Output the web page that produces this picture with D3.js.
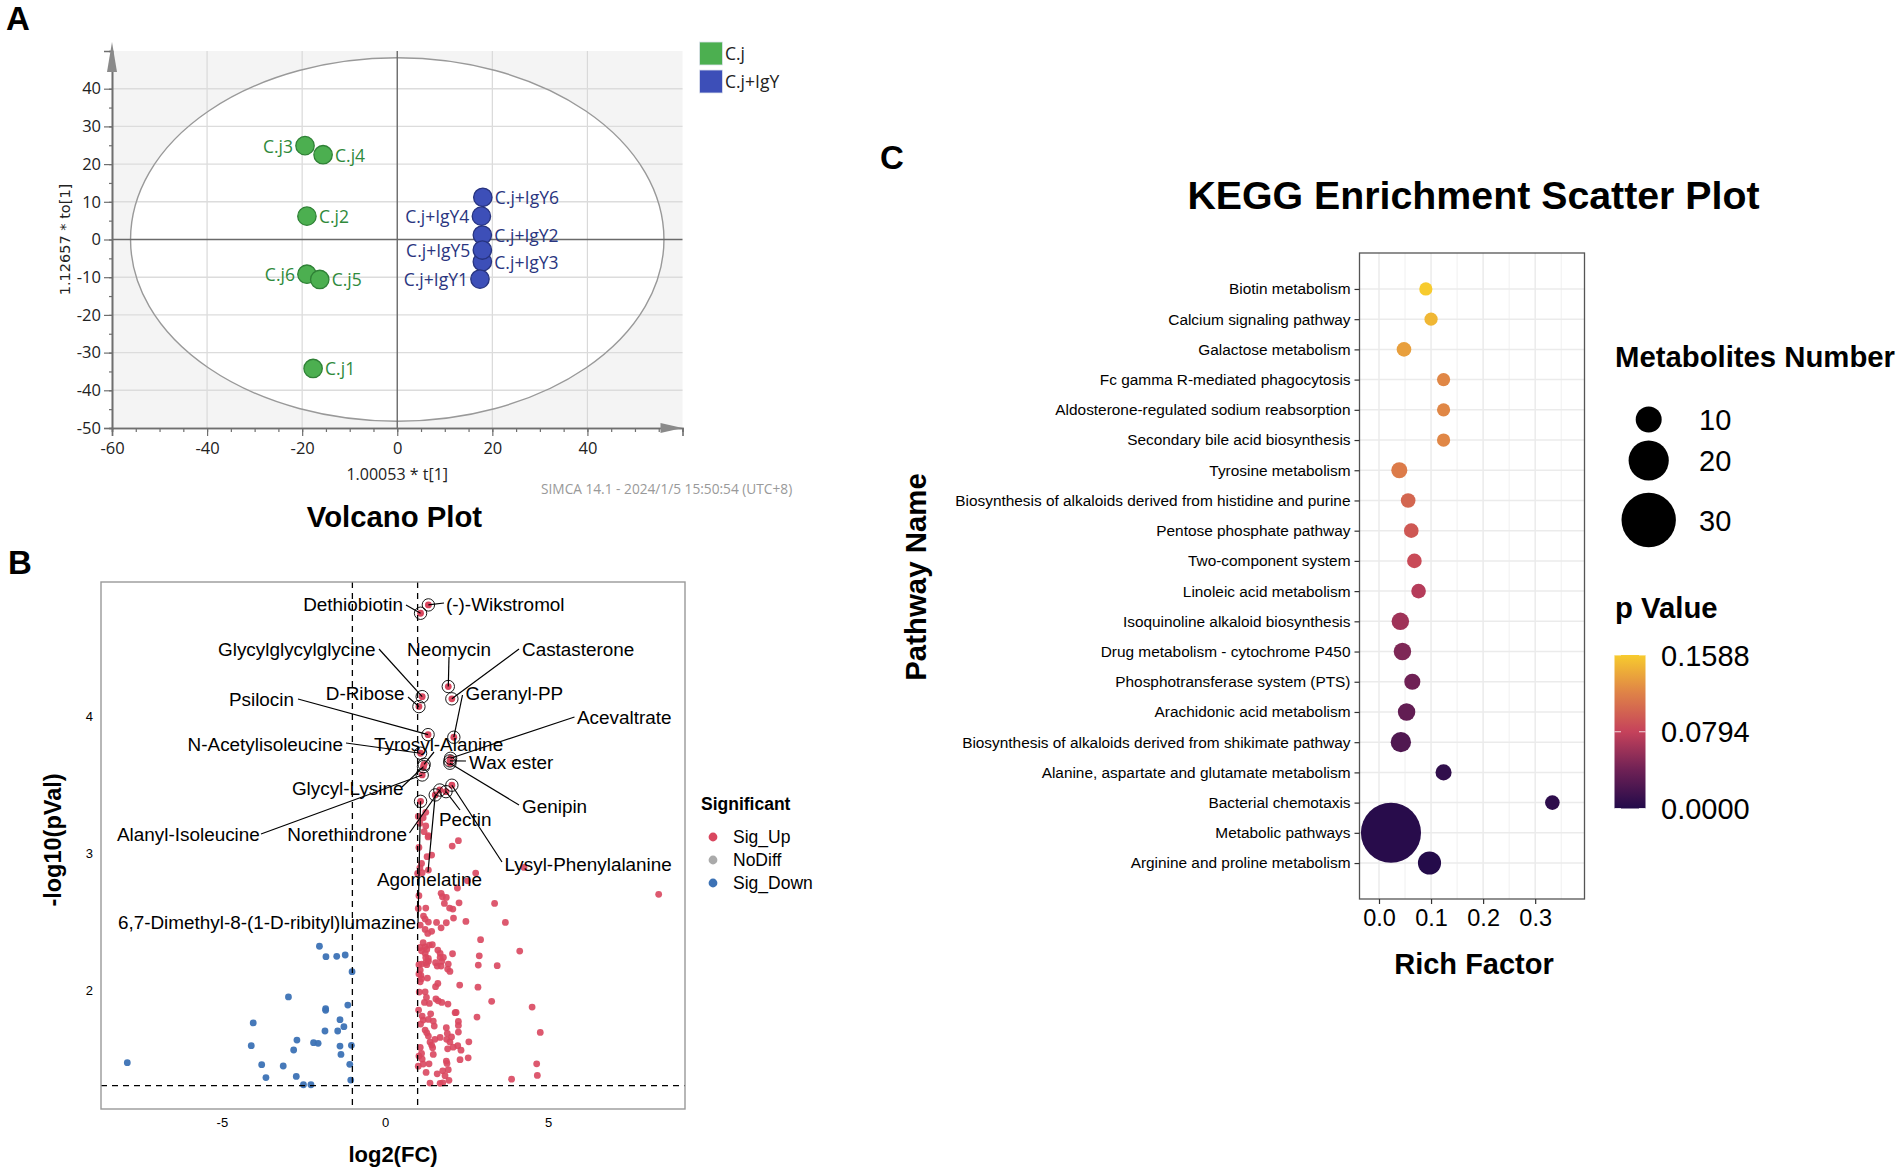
<!DOCTYPE html>
<html>
<head>
<meta charset="utf-8">
<script src="https://cdn.jsdelivr.net/npm/d3@7"></script>
<style>
  html, body { margin: 0; padding: 0; background: #fff; }
  svg { display: block; }
  text { font-family: "Liberation Sans", Arial, sans-serif; fill: #000; }
  .simca text { font-family: "Open Sans", sans-serif; }
</style>
</head>
<body>
<svg id="chart" width="1902" height="1173"></svg>
<script>
// ---- Panel A data: OPLS-DA scores
const scoreNames = ['C.j3', 'C.j4', 'C.j2', 'C.j6', 'C.j5', 'C.j1',
  'C.j+IgY6', 'C.j+IgY4', 'C.j+IgY2', 'C.j+IgY3', 'C.j+IgY5', 'C.j+IgY1'];
const scoreT = [-19.4, -15.6, -19.0, -19.0, -16.3, -17.7, 18.0, 17.7, 17.9, 17.9, 17.9, 17.4];
const scoreTo = [24.9, 22.5, 6.2, -9.2, -10.6, -34.2, 11.2, 6.2, 1.2, -5.9, -2.8, -10.5];
const scoreGroup = ['C.j', 'C.j', 'C.j', 'C.j', 'C.j', 'C.j',
  'C.j+IgY', 'C.j+IgY', 'C.j+IgY', 'C.j+IgY', 'C.j+IgY', 'C.j+IgY'];
const scoreLabelLeft = ['C.j3', 'C.j6', 'C.j+IgY4', 'C.j+IgY5', 'C.j+IgY1'];
const scoreGroups = ['C.j', 'C.j+IgY'];

// ---- Panel B data: volcano points as [log2FC, -log10 p]
const sigUp = [
  [1.04, 2.185], [1.12, 2.19], [1.25, 2.2], [1.33, 2.21], [1.28, 2.185], [1.55, 2.2], [1.6, 2.175], [1.72, 2.175],
  [1.74, 2.21], [1.94, 2.19], [1.92, 2.153], [1.99, 2.136], [1.08, 2.146], [1.04, 2.117], [1.1, 2.107], [1.3, 2.087],
  [1.12, 2.082], [1.08, 2.06], [1.62, 2.048], [1.55, 2.024], [2.29, 2.036], [2.86, 2.182], [3.44, 2.178], [2.85, 2.021],
  [1.05, 1.985], [1.23, 1.987], [1.27, 1.946], [1.21, 1.909], [1.36, 1.902], [1.56, 1.934], [1.63, 1.921], [1.74, 1.909],
  [1.93, 1.897], [3.27, 1.917], [4.51, 1.875], [1.03, 1.853], [2.15, 1.834], [2.18, 1.836], [1.4, 1.826], [1.14, 1.809],
  [1.17, 1.78], [1.33, 1.785], [1.48, 1.773], [1.09, 1.751], [1.51, 1.736], [2.82, 1.802], [2.25, 1.77], [2.25, 1.741],
  [1.88, 1.724], [1.23, 1.707], [1.28, 1.687], [1.91, 1.682], [2.25, 1.692], [1.33, 1.663], [1.69, 1.653], [1.53, 1.639],
  [1.89, 1.639], [2.04, 1.656], [1.99, 1.619], [1.38, 1.619], [1.43, 1.597], [1.46, 1.578], [2.57, 1.621], [2.23, 1.592],
  [2.09, 1.582], [1.92, 1.57], [2.33, 1.56], [1.08, 1.58], [1.12, 1.536], [1.04, 1.517], [1.48, 1.529], [1.14, 1.495],
  [1.17, 1.458], [1.35, 1.46], [1.02, 1.443], [2.55, 1.504], [2.3, 1.49], [1.88, 1.48], [1.9, 1.463], [1.26, 1.397],
  [1.77, 1.409], [1.94, 1.417], [1.6, 1.387], [1.84, 1.373], [1.96, 1.339], [1.38, 1.319], [1.69, 1.317], [1.77, 1.321],
  [3.88, 1.348], [4.76, 1.69], [4.65, 1.46], [4.67, 1.375],
  [2.25, 3.092], [2.06, 3.053], [1.04, 3.043], [1.2, 3.158], [1.33, 3.129], [1.43, 2.987], [1.29, 2.975], [1.12, 2.926],
  [1.07, 2.894], [1.33, 2.877], [1.0, 2.853], [1.14, 2.858], [2.78, 2.855], [4.26, 2.897], [2.53, 2.799], [2.22, 2.746],
  [1.04, 2.69], [1.72, 2.707], [1.76, 2.682], [1.88, 2.677], [1.82, 2.633], [2.27, 2.638], [3.36, 2.633], [1.02, 2.597],
  [1.25, 2.599], [1.98, 2.599], [2.08, 2.592], [2.1, 2.526], [1.18, 2.541], [1.23, 2.519], [1.33, 2.497], [1.58, 2.494],
  [1.88, 2.492], [2.48, 2.502], [3.69, 2.494], [1.08, 2.475], [1.72, 2.455], [1.23, 2.443], [1.43, 2.429], [1.31, 2.414],
  [2.93, 2.368], [4.13, 2.285], [1.17, 2.346], [1.08, 2.311], [1.23, 2.316], [1.36, 2.329], [1.45, 2.331], [1.12, 2.287],
  [1.28, 2.297], [1.23, 2.268], [1.62, 2.292], [1.69, 2.268], [2.07, 2.265], [2.89, 2.25], [1.25, 2.238], [1.33, 2.231],
  [1.69, 2.238], [1.79, 2.238], [8.39, 2.7],
  [1.25, 3.3], [1.02, 3.27], [1.17, 3.26], [1.07, 3.22], [1.25, 3.2], [1.32, 3.12]
];
const sigDown = [
  [-2.01, 2.32], [-1.81, 2.244], [-1.48, 2.246], [-1.22, 2.256], [-1.01, 2.134], [-2.96, 1.949], [-1.14, 1.89],
  [-1.82, 1.863], [-1.82, 1.851], [-4.04, 1.759], [-1.38, 1.783], [-1.26, 1.732], [-1.84, 1.7], [-1.45, 1.7],
  [-2.7, 1.634], [-2.19, 1.615], [-2.05, 1.61], [-4.1, 1.593], [-1.38, 1.59], [-1.03, 1.595], [-2.8, 1.561],
  [-1.35, 1.529], [-7.9, 1.468], [-3.78, 1.454], [-3.12, 1.444], [-1.08, 1.456], [-3.65, 1.359], [-2.72, 1.368],
  [-1.05, 1.341], [-2.5, 1.307], [-2.27, 1.307]
];
const namedMetabolites = ['(-)-Wikstromol', 'Dethiobiotin', 'Neomycin', 'Castasterone', 'Glycylglycylglycine', 'D-Ribose',
  'Psilocin', 'Geranyl-PP', 'N-Acetylisoleucine', 'Tyrosyl-Alanine', 'Glycyl-Lysine', 'Alanyl-Isoleucine', 'Acevaltrate',
  'Wax ester', 'Genipin', 'Norethindrone', 'Agomelatine', 'Pectin', 'Lysyl-Phenylalanine',
  '6,7-Dimethyl-8-(1-D-ribityl)lumazine'];
const namedFC = [1.33, 1.09, 1.94, 2.05, 1.14, 1.04, 1.32, 2.11, 1.09, 1.2, 1.18, 1.14, 2.01, 1.99, 1.99, 1.68, 1.54, 1.87, 2.05, 1.09];
const namedP = [4.817, 4.756, 4.22, 4.13, 4.146, 4.073, 3.868, 3.849, 3.732, 3.651, 3.634, 3.573, 3.695, 3.676, 3.659, 3.463, 3.427, 3.451, 3.498, 3.38];
const significance = ['Sig_Up', 'NoDiff', 'Sig_Down'];

// ---- Panel C data: KEGG enrichment
const pathways = ['Biotin metabolism', 'Calcium signaling pathway', 'Galactose metabolism',
  'Fc gamma R-mediated phagocytosis', 'Aldosterone-regulated sodium reabsorption', 'Secondary bile acid biosynthesis',
  'Tyrosine metabolism', 'Biosynthesis of alkaloids derived from histidine and purine', 'Pentose phosphate pathway',
  'Two-component system', 'Linoleic acid metabolism', 'Isoquinoline alkaloid biosynthesis',
  'Drug metabolism - cytochrome P450', 'Phosphotransferase system (PTS)', 'Arachidonic acid metabolism',
  'Biosynthesis of alkaloids derived from shikimate pathway', 'Alanine, aspartate and glutamate metabolism',
  'Bacterial chemotaxis', 'Metabolic pathways', 'Arginine and proline metabolism'];
const richFactor = [0.09, 0.1, 0.048, 0.124, 0.124, 0.124, 0.039, 0.056, 0.062, 0.068, 0.076, 0.041, 0.045, 0.064, 0.053, 0.042, 0.124, 0.333, 0.023, 0.097];
const metaboliteCount = [1, 1, 2, 1, 1, 1, 3, 2, 2, 2, 2, 4, 4, 3, 4, 6, 3, 2, 34, 8];
const pValue = [0.1588, 0.148, 0.135, 0.122, 0.122, 0.122, 0.115, 0.102, 0.093, 0.085, 0.072, 0.062, 0.047, 0.04, 0.033, 0.024, 0.008, 0.006, 0.003, 0.001];
const sizeBreaks = [10, 20, 30];
const pBreaks = [0.1588, 0.0794, 0];

// Label layout for the volcano, page pixels: [anchor, text x, baseline, connector x, connector y]
const labelLayout = {
  '(-)-Wikstromol': ['start', 446, 611, 444, 603],
  'Dethiobiotin': ['end', 403, 611, 406, 605],
  'Neomycin': ['middle', 449, 656, 449, 657],
  'Castasterone': ['start', 522, 656, 519, 649],
  'Glycylglycylglycine': ['end', 375.5, 656, 379, 649],
  'D-Ribose': ['end', 404.5, 700, 408, 697],
  'Psilocin': ['end', 294, 706, 298, 699],
  'Geranyl-PP': ['start', 465.5, 700, 462.5, 695],
  'N-Acetylisoleucine': ['end', 343, 751, 346, 743],
  'Tyrosyl-Alanine': ['start', 374, 750.5, 434, 752],
  'Glycyl-Lysine': ['end', 403.5, 795, 402, 787],
  'Alanyl-Isoleucine': ['start', 117, 841, 261, 834],
  'Acevaltrate': ['start', 577, 724, 574.5, 717],
  'Wax ester': ['start', 469, 769, 466, 761],
  'Genipin': ['start', 522, 813, 519, 805],
  'Norethindrone': ['end', 407, 841, 409.5, 833],
  'Agomelatine': ['start', 377, 886, 428, 872],
  'Pectin': ['start', 439, 826, 460, 810],
  'Lysyl-Phenylalanine': ['start', 504.5, 871, 502, 862],
  '6,7-Dimethyl-8-(1-D-ribityl)lumazine': ['end', 416, 929, 418, 923]
};

const svg = d3.select('#chart');
const hyphenInt = (d) => String(d).replace('\u2212', '-');

function panelLetter(txt, x, y) {
  svg.append('text').attr('x', x).attr('y', y).text(txt)
    .style('font-size', '33px').style('font-weight', 700);
}

// ---------------- Panel A
function drawScores() {
  const g = svg.append('g').attr('class', 'simca');
  const x = d3.scaleLinear().domain([-60, 60]).range([112, 682.5]);
  const y = d3.scaleLinear().domain([-50, 50]).range([428, 51]);
  const axisGrey = '#6f6f6f';

  g.append('rect').attr('x', x(-60)).attr('y', y(50)).attr('width', x(60) - x(-60)).attr('height', y(-50) - y(50))
    .attr('fill', '#f4f4f4');
  g.append('ellipse').attr('cx', x(0)).attr('cy', y(0))
    .attr('rx', x(56.1) - x(0)).attr('ry', y(0) - y(48.2))
    .attr('fill', '#fff');

  g.selectAll('.vgrid').data([-40, -20, 20, 40]).enter().append('line')
    .attr('x1', (d) => x(d)).attr('x2', (d) => x(d)).attr('y1', y(50)).attr('y2', y(-50))
    .attr('stroke', '#d9d9d9').attr('stroke-width', 1.2);
  g.selectAll('.hgrid').data([-40, -30, -20, -10, 10, 20, 30, 40]).enter().append('line')
    .attr('x1', x(-60)).attr('x2', x(60)).attr('y1', (d) => y(d)).attr('y2', (d) => y(d))
    .attr('stroke', '#dcdcdc').attr('stroke-width', 1.4);

  g.append('ellipse').attr('cx', x(0)).attr('cy', y(0))
    .attr('rx', x(56.1) - x(0)).attr('ry', y(0) - y(48.2))
    .attr('fill', 'none').attr('stroke', '#999').attr('stroke-width', 1.4);

  g.append('line').attr('x1', x(0)).attr('x2', x(0)).attr('y1', y(50)).attr('y2', y(-50))
    .attr('stroke', '#6a6a6a').attr('stroke-width', 1.4);
  g.append('line').attr('x1', x(-60)).attr('x2', x(60)).attr('y1', y(0)).attr('y2', y(0))
    .attr('stroke', '#6a6a6a').attr('stroke-width', 1.6);

  // Axes, minor ticks first
  const minorX = g.append('g').attr('transform', `translate(0,${y(-50)})`)
    .call(d3.axisBottom(x).tickValues(d3.range(-60, 56, 5)).tickFormat('').tickSize(4));
  const minorY = g.append('g').attr('transform', `translate(${x(-60)},0)`)
    .call(d3.axisLeft(y).tickValues(d3.range(-50, 46, 5)).tickFormat('').tickSize(3));
  const majorX = g.append('g').attr('transform', `translate(0,${y(-50)})`)
    .call(d3.axisBottom(x).tickValues([-60, -40, -20, 0, 20, 40]).tickFormat(hyphenInt).tickSize(8).tickPadding(6));
  const majorY = g.append('g').attr('transform', `translate(${x(-60)},0)`)
    .call(d3.axisLeft(y).tickValues(d3.range(-50, 41, 10)).tickFormat(hyphenInt).tickSize(8).tickPadding(3));
  [minorX, minorY, majorX, majorY].forEach((a) => {
    a.selectAll('line').attr('stroke', axisGrey).attr('stroke-width', 1.2);
    a.select('.domain').attr('stroke', axisGrey).attr('stroke-width', 1.6);
    a.selectAll('text').style('font-size', '16.5px').style('font-family', '"Open Sans"').style('fill', '#222');
  });

  // Arrow heads at the axis ends
  g.append('path').attr('d', d3.line()([[x(-60) - 5, y(50) + 21], [x(-60), y(50) - 9], [x(-60) + 5, y(50) + 21]]) + 'Z').attr('fill', '#8a8a8a');
  g.append('path').attr('d', d3.line()([[x(60) - 22, y(-50) - 5], [x(60), y(-50)], [x(60) - 22, y(-50) + 5]]) + 'Z').attr('fill', '#8a8a8a');

  const fillCol = d3.scaleOrdinal().domain(scoreGroups).range(['#4caf50', '#3d4fb8']);
  const strokeCol = d3.scaleOrdinal().domain(scoreGroups).range(['#2f8136', '#27337f']);
  const textCol = d3.scaleOrdinal().domain(scoreGroups).range(['#2f8a3b', '#2a3580']);

  scoreNames.forEach((name, i) => {
    const cx = x(scoreT[i]);
    const cy = y(scoreTo[i]);
    g.append('circle').attr('cx', cx).attr('cy', cy).attr('r', 9.2)
      .attr('fill', fillCol(scoreGroup[i])).attr('stroke', strokeCol(scoreGroup[i])).attr('stroke-width', 1.3);
    const left = scoreLabelLeft.includes(name);
    g.append('text').attr('x', cx + (left ? -12 : 12)).attr('y', cy + 7)
      .attr('text-anchor', left ? 'end' : 'start').text(name)
      .style('font-size', '17.5px').style('fill', textCol(scoreGroup[i]));
  });

  // Legend
  scoreGroups.forEach((name, i) => {
    g.append('rect').attr('x', 699.5).attr('y', 42 + i * 28).attr('width', 23).attr('height', 23)
      .attr('fill', fillCol(name)).attr('stroke', '#dfe3ee').attr('stroke-width', 0.8);
    g.append('text').attr('x', 725).attr('y', 60 + i * 28).text(name).style('font-size', '17.5px').style('fill', '#222');
  });

  g.append('text').attr('x', x(0)).attr('y', 480).attr('text-anchor', 'middle').text('1.00053 * t[1]')
    .style('font-size', '16px').style('fill', '#222');
  g.append('text').attr('transform', `translate(70,${y(0)}) rotate(-90)`).attr('text-anchor', 'middle').text('1.12657 * to[1]')
    .style('font-size', '14.5px').style('font-family', '"DejaVu Sans"').style('fill', '#222');
  g.append('text').attr('x', 541).attr('y', 494).text('SIMCA 14.1 - 2024/1/5 15:50:54 (UTC+8)')
    .style('font-size', '13.7px').style('fill', '#999');
}

// ---------------- Panel B
function drawVolcano() {
  const g = svg.append('g');
  const left = 101; const right = 685; const top = 582; const bottom = 1109;
  const x = d3.scaleLinear().domain([(left - 385) / 32.62, (right - 385) / 32.62]).range([left, right]);
  const y = d3.scaleLinear().domain([2 - (bottom - 990) / 136.7, 2 + (990 - top) / 136.7]).range([bottom, top]);

  const ax = g.append('g').attr('transform', `translate(0,${bottom})`)
    .call(d3.axisBottom(x).tickValues([-5, 0, 5]).tickFormat(hyphenInt).tickSize(0).tickPadding(9));
  const ay = g.append('g').attr('transform', `translate(${left},0)`)
    .call(d3.axisLeft(y).tickValues([2, 3, 4]).tickFormat(hyphenInt).tickSize(0).tickPadding(8));
  [ax, ay].forEach((a) => {
    a.select('.domain').remove();
    a.selectAll('text').style('font-size', '13px');
  });

  g.selectAll('.sigup').data(sigUp).enter().append('circle')
    .attr('cx', (d) => x(d[0])).attr('cy', (d) => y(d[1])).attr('r', 3.4)
    .attr('fill', '#d9475f').attr('fill-opacity', 0.9);
  g.selectAll('.sigdown').data(sigDown).enter().append('circle')
    .attr('cx', (d) => x(d[0])).attr('cy', (d) => y(d[1])).attr('r', 3.4)
    .attr('fill', '#3c72b5').attr('fill-opacity', 0.95);
  namedMetabolites.forEach((m, i) => {
    g.append('circle').attr('cx', x(namedFC[i])).attr('cy', y(namedP[i])).attr('r', 3.4)
      .attr('fill', '#d9475f');
  });

  [-1, 1].forEach((v) => {
    g.append('line').attr('x1', x(v)).attr('x2', x(v)).attr('y1', top).attr('y2', bottom)
      .attr('stroke', '#000').attr('stroke-width', 1.3).attr('stroke-dasharray', '6,5');
  });
  g.append('line').attr('x1', left).attr('x2', right).attr('y1', y(1.3)).attr('y2', y(1.3))
    .attr('stroke', '#000').attr('stroke-width', 1.3).attr('stroke-dasharray', '6,5');

  g.append('rect').attr('x', left).attr('y', top).attr('width', right - left).attr('height', bottom - top)
    .attr('fill', 'none').attr('stroke', '#999').attr('stroke-width', 1.4);

  namedMetabolites.forEach((m, i) => {
    const l = labelLayout[m];
    g.append('circle').attr('cx', x(namedFC[i])).attr('cy', y(namedP[i])).attr('r', 6.2)
      .attr('fill', 'none').attr('stroke', '#000').attr('stroke-width', 0.9);
    g.append('line').attr('x1', l[3]).attr('y1', l[4]).attr('x2', x(namedFC[i])).attr('y2', y(namedP[i]))
      .attr('stroke', '#000').attr('stroke-width', 1.2);
    g.append('text').attr('x', l[1]).attr('y', l[2]).attr('text-anchor', l[0]).text(m)
      .style('font-size', '18.9px');
  });

  g.append('text').attr('x', 393).attr('y', 1162).attr('text-anchor', 'middle').text('log2(FC)')
    .style('font-size', '22px').style('font-weight', 700);
  g.append('text').attr('transform', 'translate(61,840) rotate(-90)').attr('text-anchor', 'middle').text('-log10(pVal)')
    .style('font-size', '23.5px').style('font-weight', 700);

  // Legend
  g.append('text').attr('x', 701).attr('y', 810).text('Significant')
    .style('font-size', '17.5px').style('font-weight', 700);
  const legendCol = d3.scaleOrdinal().domain(significance).range(['#d9475f', '#aaaaaa', '#3c72b5']);
  significance.forEach((s, i) => {
    g.append('circle').attr('cx', 713).attr('cy', 837 + i * 23).attr('r', 4.4).attr('fill', legendCol(s));
    g.append('text').attr('x', 733).attr('y', 843 + i * 23).text(s).style('font-size', '17.5px');
  });
}

// ---------------- Panel C
function drawKegg() {
  const g = svg.append('g');
  const left = 1359.5; const right = 1584.5; const top = 253; const bottom = 899;
  const x = d3.scaleLinear().domain([(left - 1379) / 520.6, (right - 1379) / 520.6]).range([left, right]);
  const y = d3.scalePoint().domain(pathways).range([top, bottom]).padding(1.19);
  const r = d3.scaleLinear().domain([10, 30]).range([13, 27.2]);
  const col = d3.scaleLinear().domain([0, 0.04, 0.0794, 0.12, 0.1588])
    .range(['#220a4a', '#6f2155', '#c5425b', '#df8347', '#f7cb2e']);

  g.selectAll('.minor').data([0.05, 0.15, 0.25, 0.35]).enter().append('line')
    .attr('x1', (d) => x(d)).attr('x2', (d) => x(d)).attr('y1', top).attr('y2', bottom)
    .attr('stroke', '#f0f0f0').attr('stroke-width', 1);
  g.selectAll('.major').data([0, 0.1, 0.2, 0.3]).enter().append('line')
    .attr('x1', (d) => x(d)).attr('x2', (d) => x(d)).attr('y1', top).attr('y2', bottom)
    .attr('stroke', '#ebebeb').attr('stroke-width', 1.5);
  g.selectAll('.hline').data(pathways).enter().append('line')
    .attr('x1', left).attr('x2', right).attr('y1', (d) => y(d)).attr('y2', (d) => y(d))
    .attr('stroke', '#ebebeb').attr('stroke-width', 1.5);

  pathways.forEach((p, i) => {
    g.append('circle').attr('cx', x(richFactor[i])).attr('cy', y(p)).attr('r', r(metaboliteCount[i]))
      .attr('fill', col(pValue[i]));
  });

  g.append('rect').attr('x', left).attr('y', top).attr('width', right - left).attr('height', bottom - top)
    .attr('fill', 'none').attr('stroke', '#555').attr('stroke-width', 1.3);

  const ax = g.append('g').attr('transform', `translate(0,${bottom})`)
    .call(d3.axisBottom(x).tickValues([0, 0.1, 0.2, 0.3]).tickFormat(d3.format('.1f')).tickSize(5).tickPadding(5));
  const ay = g.append('g').attr('transform', `translate(${left},0)`)
    .call(d3.axisLeft(y).tickSize(5).tickPadding(4));
  ax.select('.domain').remove();
  ay.select('.domain').remove();
  ax.selectAll('line').attr('stroke', '#333').attr('stroke-width', 1.2);
  ay.selectAll('line').attr('stroke', '#333').attr('stroke-width', 1.2);
  ax.selectAll('text').style('font-size', '23.5px');
  ay.selectAll('text').style('font-size', '15.4px');

  g.append('text').attr('x', 1473.5).attr('y', 209).attr('text-anchor', 'middle').text('KEGG Enrichment Scatter Plot')
    .style('font-size', '39.3px').style('font-weight', 700);
  g.append('text').attr('x', 1474).attr('y', 974).attr('text-anchor', 'middle').text('Rich Factor')
    .style('font-size', '29px').style('font-weight', 700);
  g.append('text').attr('transform', 'translate(926,577) rotate(-90)').attr('text-anchor', 'middle').text('Pathway Name')
    .style('font-size', '29.4px').style('font-weight', 700);

  // Size legend
  g.append('text').attr('x', 1615).attr('y', 367).text('Metabolites Number')
    .style('font-size', '29.3px').style('font-weight', 700);
  const sizeY = d3.scaleOrdinal().domain(sizeBreaks).range([419.5, 460.5, 520]);
  sizeBreaks.forEach((s) => {
    g.append('circle').attr('cx', 1648.7).attr('cy', sizeY(s)).attr('r', r(s)).attr('fill', '#000');
    g.append('text').attr('x', 1699).attr('y', sizeY(s) + 10.5).text(s).style('font-size', '29px');
  });

  // Colour bar
  g.append('text').attr('x', 1615).attr('y', 618).text('p Value')
    .style('font-size', '29.3px').style('font-weight', 700);
  const barY = d3.scaleLinear().domain([0, 0.1588]).range([808.5, 655]);
  const grad = svg.append('defs').append('linearGradient').attr('id', 'pgrad')
    .attr('x1', 0).attr('x2', 0).attr('y1', 1).attr('y2', 0);
  col.domain().forEach((d) => {
    grad.append('stop').attr('offset', d / 0.1588).attr('stop-color', col(d));
  });
  g.append('rect').attr('x', 1614.5).attr('y', barY(0.1588)).attr('width', 31).attr('height', barY(0) - barY(0.1588))
    .attr('fill', 'url(#pgrad)');
  pBreaks.forEach((d) => {
    [[1614.5, 1621], [1639, 1645.5]].forEach((seg) => {
      g.append('line').attr('x1', seg[0]).attr('x2', seg[1]).attr('y1', barY(d)).attr('y2', barY(d))
        .attr('stroke', '#fff').attr('stroke-width', 0.8);
    });
    g.append('text').attr('x', 1661).attr('y', barY(d) + 10.5).text(d3.format('.4f')(d)).style('font-size', '29px');
  });
}

panelLetter('A', 6, 30);
panelLetter('B', 8, 574);
panelLetter('C', 880, 169);
drawScores();
drawVolcano();
drawKegg();

svg.append('text').attr('x', 394.5).attr('y', 527).attr('text-anchor', 'middle').text('Volcano Plot')
  .style('font-size', '29.3px').style('font-weight', 700);
</script>
</body>
</html>
